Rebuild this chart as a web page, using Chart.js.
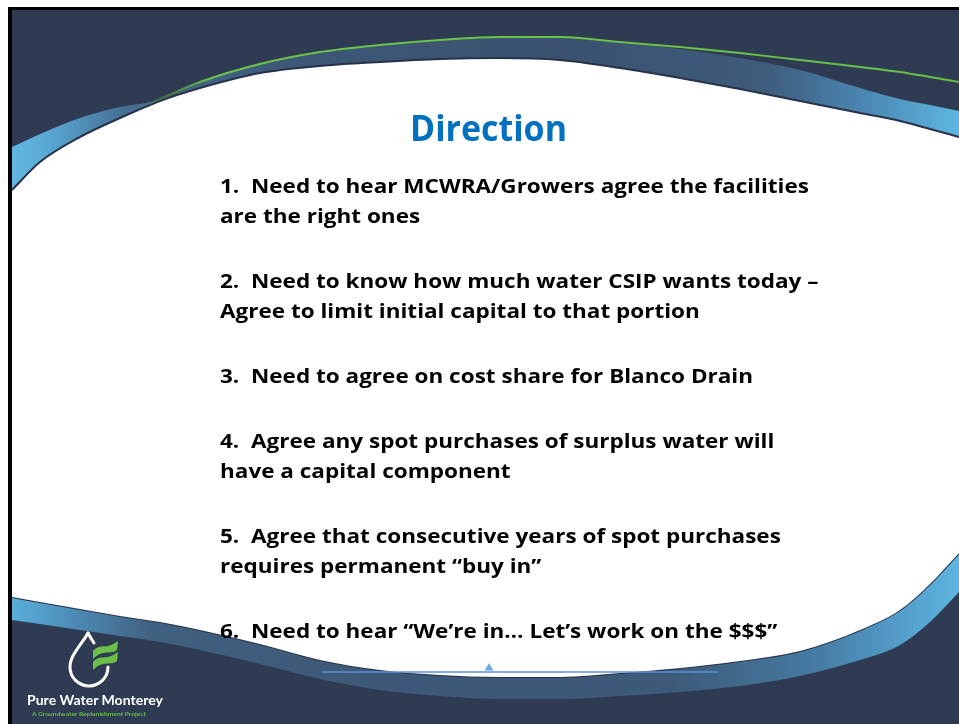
<!DOCTYPE html>
<html>
<head>
<meta charset="utf-8">
<title>Direction</title>
<script src="https://cdn.jsdelivr.net/npm/chart.js@4.4.1/dist/chart.umd.min.js"></script>
<style>
  html, body { margin: 0; padding: 0; background: #fff; overflow: hidden; }
  #slide { position: relative; width: 959px; height: 724px; overflow: hidden; background: #fff; }
  #frame { position: absolute; left: 8px; top: 7px; right: 0; bottom: 0;
           border-left: 4px solid #000; border-top: 3px solid #000; background: #2f3b53; }
  #bg { position: absolute; left: 0; top: 0; }
  .txt { position: absolute; white-space: pre; transform-origin: 0 0; }
  .title { font-family: "Open Sans"; font-weight: 700; font-size: 35px; line-height: 35px; color: #0070c0; }
  .item { font-family: "Open Sans"; font-weight: 700; font-size: 19px; line-height: 19px; color: #000; }
  .brand { font-family: Lato; font-weight: 700; font-size: 12.5px; line-height: 12.5px; color: #fff; }
  .tag { font-family: Lato; font-weight: 700; font-size: 6px; line-height: 6px; color: #66bb44; }
  #logo { position: absolute; left: 0; top: 0; }
</style>
</head>
<body>
<div id="slide">
  <div id="frame"></div>
  <canvas id="bg" width="959" height="724"></canvas>
  <svg id="logo" width="959" height="724">
    <path d="M88,633 C82,644 70,655 70,667 A19,19 0 0 0 108,667" fill="none" stroke="#fff" stroke-width="3" stroke-linecap="round"/>
    <path d="M88,633 C90,637 92,640 94,643" fill="none" stroke="#fff" stroke-width="3" stroke-linecap="round"/>
    <path d="M93,651 C99,644 105,648 111,645 C114,644 116,642 118,641 L117,650 C112,654 106,651 100,654 C97,655 95,657 93,659 Z" fill="#6cc04a"/>
    <path d="M93,662 C99,655 105,659 111,656 C114,655 116,653 118,652 L117,661 C112,665 106,662 100,665 C97,666 95,668 93,670 Z" fill="#6cc04a"/>
  </svg>
  <div id="texts"></div>
</div>
<script>
// slide background curves, sampled along x (page pixels)
const xs          = [12, 40, 80, 120, 160, 200, 260, 320, 380, 440, 500, 560, 620, 680, 740, 800, 860, 900, 930, 959];
const bandTop     = [147, 134, 118, 107, 100, 83, 65, 53, 46, 41, 38, 38, 43, 49, 58, 70, 88, 99, 105, 111];
const whiteTop    = [190, 162, 137, 118, 101, 88, 73, 66, 62, 59, 58, 60, 68, 78, 89, 101, 113, 121, 129, 137];
const whiteBottom = [597, 602, 609, 616, 622, 630, 644, 660, 670, 675, 677, 677, 673, 668, 661, 651, 630, 610, 584, 553];
const bandBottom  = [620, 624, 630, 636, 642, 650, 664, 679, 690, 696, 699, 699, 696, 692, 686, 676, 660, 645, 622, 592];

// green accent line
const greenXs   = [130, 160, 200, 260, 320, 380, 440, 500, 560, 620, 680, 740, 800, 860, 900, 930, 959];
const greenLine = [111, 99, 82, 64, 52, 45, 40, 37, 37, 42, 47, 53, 60, 67, 72, 77, 82];

// slider line + marker at the bottom
const sliderXs = [322, 718];
const sliderY  = [672, 672];
const markerX  = [489];
const markerY  = [668];

// texts
const titleText = 'Direction';
const items = [
  ['1.  Need to hear MCWRA/Growers agree the facilities', 'are the right ones'],
  ['2.  Need to know how much water CSIP wants today \u2013', 'Agree to limit initial capital to that portion'],
  ['3.  Need to agree on cost share for Blanco Drain'],
  ['4.  Agree any spot purchases of surplus water will', 'have a capital component'],
  ['5.  Agree that consecutive years of spot purchases', 'requires permanent \u201cbuy in\u201d'],
  ['6.  Need to hear \u201cWe\u2019re in\u2026 Let\u2019s work on the $$$\u201d']
];
const brandText = 'Pure Water Monterey';
const tagText = 'A Groundwater Replenishment Project';

const pts = (x, y) => x.map((v, i) => ({ x: v, y: y[i] }));

function hGrad(chart, stops) {
  const { ctx, chartArea } = chart;
  const g = ctx.createLinearGradient(chartArea.left, 0, chartArea.right, 0);
  stops.forEach(s => g.addColorStop(s[0], s[1]));
  return g;
}

const topStops = [[0, '#63bde6'], [0.05, '#5aa8d4'], [0.13, '#456e92'], [0.3, '#3c5876'],
                  [0.6, '#3a5270'], [0.8, '#3e5c7c'], [0.9, '#4a86b2'], [1, '#5fb6e2']];
const bottomStops = [[0, '#5db6e2'], [0.06, '#4f94c0'], [0.16, '#40607f'], [0.4, '#3c5876'],
                     [0.7, '#3d5a79'], [0.85, '#457aa2'], [0.95, '#55a2cf'], [1, '#5fb4e0']];
const greenStops = [[0, 'rgba(110,200,70,0)'], [0.14, 'rgba(110,200,70,0)'], [0.22, '#6cc64a'], [1, '#66c045']];

const line = {
  pointRadius: 0,
  borderWidth: 0,
  cubicInterpolationMode: 'monotone',
  fill: false,
  clip: false
};

new Chart(document.getElementById('bg'), {
  type: 'line',
  data: {
    datasets: [
      // 0 marker
      { ...line, data: pts(markerX, markerY), order: 1, pointRadius: 5, pointStyle: 'triangle',
        pointBackgroundColor: '#6ea8f0', pointBorderWidth: 0, showLine: false },
      // 1 slider line
      { ...line, data: pts(sliderXs, sliderY), order: 2, borderWidth: 1.5, borderColor: '#5b8fd8' },
      // 2 green line
      { ...line, data: pts(greenXs, greenLine), order: 3, borderWidth: 2,
        borderColor: c => c.chart.chartArea ? hGrad(c.chart, greenStops) : '#6cc64a' },
      // 3 white area top edge, filled down to 4
      { ...line, data: pts(xs, whiteTop), order: 4, borderWidth: 2, borderColor: '#28324a',
        fill: { target: 4 }, backgroundColor: '#ffffff' },
      // 4 white area bottom edge
      { ...line, data: pts(xs, whiteBottom), order: 5, borderWidth: 2, borderColor: '#2a3449' },
      // 5 lower blue band
      { ...line, data: pts(xs, bandBottom), order: 6, fill: { target: 4 },
        backgroundColor: c => c.chart.chartArea ? hGrad(c.chart, bottomStops) : '#3c5876' },
      // 6 upper blue band
      { ...line, data: pts(xs, bandTop), order: 7, fill: { target: 3 },
        backgroundColor: c => c.chart.chartArea ? hGrad(c.chart, topStops) : '#3c5876' }
    ]
  },
  options: {
    responsive: false,
    animation: false,
    devicePixelRatio: 1,
    layout: { padding: 0, autoPadding: false },
    plugins: { legend: { display: false }, tooltip: { enabled: false } },
    scales: {
      x: { type: 'linear', min: 0, max: 959, display: false },
      y: { type: 'linear', min: 0, max: 724, reverse: true, display: false }
    }
  }
});

// text layer
const box = document.getElementById('texts');
function addText(cls, text, left, baseline, size) {
  const el = document.createElement('div');
  el.className = 'txt ' + cls;
  el.textContent = text;
  el.style.left = left + 'px';
  el.style.top = (baseline - 0.888 * size) + 'px';
  box.appendChild(el);
  return el;
}
function fit(el, width) {
  const w = el.getBoundingClientRect().width;
  el.style.transform = 'scaleX(' + (width / w) + ')';
}

const titleEl = addText('title', titleText, 410, 141, 35);
const lineEls = [];
let base = 193.5;
items.forEach(item => {
  item.forEach((t, j) => {
    if (j > 0) base += 30;
    lineEls.push(addText('item', t, 220, base, 19));
  });
  base += 65;
});
const brandEl = addText('brand', brandText, 27, 706, 12.5);
const tagEl = addText('tag', tagText, 32, 716, 6);

document.fonts.ready.then(() => {
  fit(titleEl, 157);
  const w0 = lineEls[0].getBoundingClientRect().width;
  const s = 589 / w0;
  lineEls.forEach(el => { el.style.transform = 'scaleX(' + s + ')'; });
  fit(brandEl, 136);
  fit(tagEl, 114);
});
</script>
</body>
</html>
